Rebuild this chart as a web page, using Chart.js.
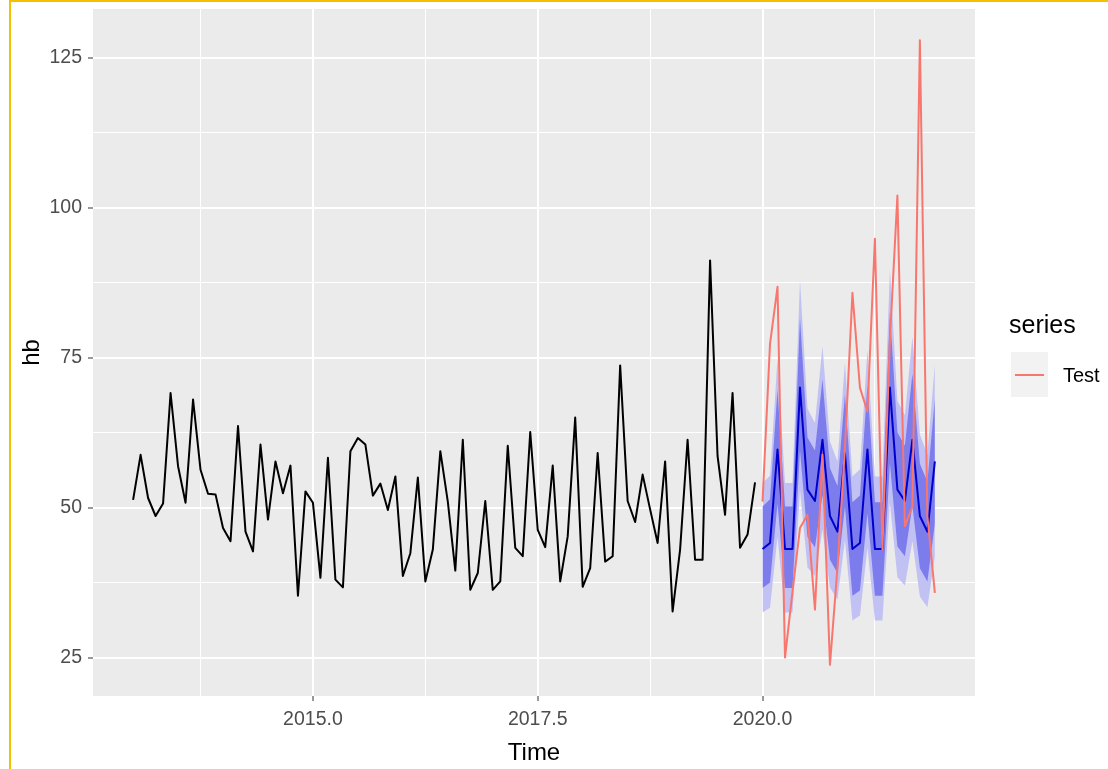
<!DOCTYPE html>
<html>
<head>
<meta charset="utf-8">
<script src="https://cdn.jsdelivr.net/npm/chart.js@4.4.1/dist/chart.umd.min.js"></script>
<style>
html,body{margin:0;padding:0;background:#fff;}
canvas{display:block;}
</style>
</head>
<body>
<canvas id="c" width="1108" height="769"></canvas>
<script>
// ---- data ----
const histStart = 2013;          // monthly series, first obs Jan 2013
const fcStart = 2020;            // forecast / test start
const hb = [51.3, 58.8, 51.6, 48.6, 50.7, 69.1, 56.9, 50.8, 68.0, 56.3, 52.3, 52.2,
            46.6, 44.4, 63.6, 46.0, 42.7, 60.5, 48.0, 57.7, 52.4, 57.0, 35.3, 52.7,
            50.8, 38.3, 58.3, 38.0, 36.7, 59.4, 61.6, 60.5, 52.0, 54.0, 49.6, 55.2,
            38.6, 42.4, 55.0, 37.7, 43.0, 59.4, 51.0, 39.5, 61.3, 36.3, 39.1, 51.1,
            36.3, 37.7, 60.3, 43.3, 41.9, 62.6, 46.3, 43.4, 57.0, 37.7, 45.2, 65.0,
            36.8, 39.9, 59.1, 41.0, 41.9, 73.7, 51.1, 47.6, 55.5, 49.7, 44.1, 57.7,
            32.7, 43.0, 61.3, 41.3, 41.3, 91.2, 58.6, 48.8, 69.1, 43.3, 45.5, 54.2];
const fcMean = [43.1, 44.1, 59.7, 43.1, 43.1, 70.0, 53.0, 51.1, 61.3, 48.6, 46.0, 59.1,
                43.1, 44.1, 59.7, 43.1, 43.1, 70.0, 53.0, 51.1, 61.3, 48.6, 46.0, 57.7];
const hi95 = [54.1, 55.3, 74.9, 54.1, 54.1, 87.9, 66.5, 64.1, 76.9, 61.0, 57.7, 74.2,
              55.2, 56.4, 76.4, 55.2, 55.2, 89.6, 67.8, 65.4, 78.5, 62.2, 58.9, 73.9];
const hi80 = [50.2, 51.4, 69.6, 50.2, 50.2, 81.6, 61.7, 59.5, 71.4, 56.6, 53.6, 68.9,
              50.9, 52.0, 70.4, 50.9, 50.9, 82.6, 62.5, 60.3, 72.3, 57.3, 54.3, 68.1];
const lo80 = [36.6, 37.5, 50.7, 36.6, 36.6, 59.5, 45.1, 43.4, 52.1, 41.3, 39.1, 50.2,
              35.3, 36.2, 49.0, 35.3, 35.3, 57.4, 43.5, 41.9, 50.3, 39.9, 37.7, 47.3];
const lo95 = [32.5, 33.3, 45.1, 32.5, 32.5, 52.9, 40.0, 38.6, 46.3, 36.7, 34.7, 44.6,
              31.2, 32.0, 43.3, 31.2, 31.2, 50.8, 38.4, 37.0, 44.4, 35.2, 33.4, 41.8];
const test = [51.0, 77.3, 86.8, 25.0, 36.0, 46.6, 48.8, 33.0, 58.8, 23.8, 40.0, 60.0,
              85.8, 70.0, 66.0, 94.8, 43.0, 78.0, 102.0, 46.9, 50.2, 127.9, 48.6, 35.8];
const yMajor = [25, 50, 75, 100, 125];
const yMinor = [37.5, 62.5, 87.5, 112.5];
const xMajor = [2015.0, 2017.5, 2020.0];
const xMinor = [2013.75, 2016.25, 2018.75, 2021.25];
const legendTitle = "series";
const legendLabel = "Test";

// ---- build point lists ----
const toPts = (arr, start) => arr.map((v, i) => ({x: start + i / 12, y: v}));

const FONT = "'Liberation Sans', Arial, sans-serif";
const isMajor = (list, v) => list.some(m => Math.abs(m - v) < 1e-6);

const bgPlugin = {
  id: 'bg',
  beforeDraw(chart) {
    const {ctx, chartArea: a} = chart;
    ctx.save();
    ctx.fillStyle = '#ffffff';
    ctx.fillRect(0, 0, chart.width, chart.height);
    ctx.fillStyle = '#EBEBEB';
    ctx.fillRect(a.left, a.top, a.right - a.left, a.bottom - a.top);
    ctx.restore();
  },
  afterDraw(chart) {
    const ctx = chart.ctx;
    ctx.save();
    // frame of the screenshot
    ctx.fillStyle = '#F5C000';
    ctx.fillRect(9, 0, chart.width - 9, 2);
    ctx.fillRect(9, 0, 2, chart.height);
    // legend
    ctx.fillStyle = '#000000';
    ctx.font = '25px ' + FONT;
    ctx.textBaseline = 'middle';
    ctx.textAlign = 'left';
    ctx.fillText(legendTitle, 1009, 326);
    ctx.fillStyle = '#F2F2F2';
    ctx.fillRect(1011, 352, 37, 45);
    ctx.strokeStyle = '#F8766D';
    ctx.lineWidth = 2;
    ctx.beginPath();
    ctx.moveTo(1015, 375);
    ctx.lineTo(1044, 375);
    ctx.stroke();
    ctx.fillStyle = '#000000';
    ctx.font = '20px ' + FONT;
    ctx.fillText(legendLabel, 1063, 376);
    ctx.restore();
  }
};

const bandLine = (label, arr, color, fillTarget, order) => ({
  label, data: toPts(arr, fcStart), borderWidth: 0, borderColor: 'rgba(0,0,0,0)',
  backgroundColor: color, pointRadius: 0, fill: fillTarget, order, tension: 0
});

new Chart(document.getElementById('c'), {
  type: 'line',
  data: {
    datasets: [
      bandLine('hi95', hi95, '#C1C1F4', 1, 6),
      bandLine('lo95', lo95, '#C1C1F4', false, 6),
      bandLine('hi80', hi80, '#7C7CEC', 3, 5),
      bandLine('lo80', lo80, '#7C7CEC', false, 5),
      {label: 'mean', data: toPts(fcMean, fcStart), borderColor: '#0000CC', borderWidth: 2,
       pointRadius: 0, fill: false, order: 4},
      {label: 'Test', data: toPts(test, fcStart), borderColor: '#F8766D', borderWidth: 2,
       pointRadius: 0, fill: false, order: 3},
      {label: 'hb', data: toPts(hb, histStart), borderColor: '#000000', borderWidth: 2,
       pointRadius: 0, fill: false, order: 2}
    ]
  },
  options: {
    responsive: false,
    animation: false,
    devicePixelRatio: 1,
    layout: {padding: {left: 0, right: 133, top: 9, bottom: 0}},
    plugins: {legend: {display: false}, tooltip: {enabled: false}},
    elements: {line: {borderJoinStyle: 'round'}},
    scales: {
      x: {
        type: 'linear', min: 2012.554, max: 2022.363,
        afterBuildTicks(s) { s.ticks = [...xMajor, ...xMinor].sort((a,b)=>a-b).map(v => ({value: v})); },
        afterFit(s) { s.height = 73; s.paddingLeft = 0; s.paddingRight = 0; },
        border: {display: false},
        grid: {
          color: '#FFFFFF',
          lineWidth: c => (c.tick && isMajor(xMajor, c.tick.value)) ? 2 : 1,
          drawTicks: true, tickLength: 5,
          tickColor: c => (c.tick && isMajor(xMajor, c.tick.value)) ? '#333333' : 'rgba(0,0,0,0)',
          tickWidth: 1
        },
        ticks: {
          autoSkip: false, maxRotation: 0, padding: 7,
          color: '#4D4D4D', font: {family: FONT, size: 19.5},
          callback: v => isMajor(xMajor, v) ? v.toFixed(1) : ''
        },
        title: {display: true, text: 'Time', color: '#000000',
                font: {family: FONT, size: 24}, padding: {top: 0, bottom: 1}}
      },
      y: {
        type: 'linear', min: 18.6, max: 133.1,
        afterBuildTicks(s) { s.ticks = [...yMajor, ...yMinor].sort((a,b)=>a-b).map(v => ({value: v})); },
        afterFit(s) { s.width = 93; s.paddingTop = 0; s.paddingBottom = 0; },
        border: {display: false},
        grid: {
          color: '#FFFFFF',
          lineWidth: c => (c.tick && isMajor(yMajor, c.tick.value)) ? 2 : 1,
          drawTicks: true, tickLength: 5,
          tickColor: c => (c.tick && isMajor(yMajor, c.tick.value)) ? '#333333' : 'rgba(0,0,0,0)',
          tickWidth: 1
        },
        ticks: {
          autoSkip: false, padding: 6,
          color: '#4D4D4D', font: {family: FONT, size: 19.5},
          callback: v => isMajor(yMajor, v) ? String(v) : ''
        },
        title: {display: true, text: 'hb', color: '#000000',
                font: {family: FONT, size: 24}, padding: {top: 18, bottom: 0}}
      }
    }
  },
  plugins: [bgPlugin]
});
</script>
</body>
</html>
